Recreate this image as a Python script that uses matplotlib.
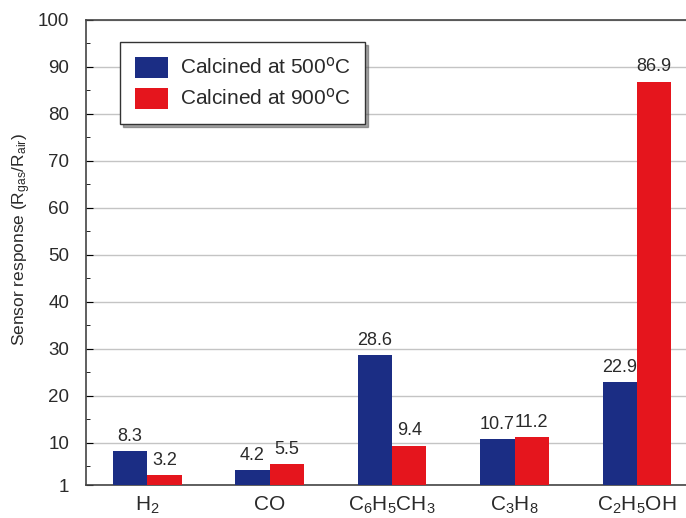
import numpy as np
import matplotlib.pyplot as plt
from matplotlib.ticker import FixedLocator

plt.rcParams['font.family'] = ['Liberation Sans', 'DejaVu Sans']
plt.rcParams['mathtext.default'] = 'regular'

gases = ['H$_2$', 'CO', 'C$_6$H$_5$CH$_3$', 'C$_3$H$_8$', 'C$_2$H$_5$OH']
resp_500 = [8.3, 4.2, 28.6, 10.7, 22.9]
resp_900 = [3.2, 5.5, 9.4, 11.2, 86.9]
labels = ['Calcined at 500$^{\\mathrm{o}}$C', 'Calcined at 900$^{\\mathrm{o}}$C']
colors = ['#1b2d84', '#e5151d']
y_base = 1
text_col = '#2a2a2a'

fig = plt.figure(figsize=(6.86, 5.18), dpi=100)
ax = fig.add_axes([0.1254, 0.0637, 0.8746, 0.8977])

x = np.arange(len(gases))
w = 0.28
for k, (vals, lab, col) in enumerate(zip([resp_500, resp_900], labels, colors)):
    xs = x + (k - 0.5) * w
    heights = np.array(vals) - y_base
    ax.bar(xs, heights, w, bottom=y_base, color=col, label=lab, zorder=3)
    for xi, v in zip(xs, vals):
        ax.text(xi, v + 1.3, f"{v:.1f}", ha='center', va='bottom',
                fontsize=13, color=text_col, zorder=4)

ax.set_xlim(-0.5, 4.4)
ax.set_ylim(1, 100)
ax.yaxis.set_major_locator(FixedLocator([1, 10, 20, 30, 40, 50, 60, 70, 80, 90, 100]))
ax.yaxis.set_minor_locator(FixedLocator([5, 15, 25, 35, 45, 55, 65, 75, 85, 95]))
ax.set_xticks(x)
ax.set_xticklabels(gases, fontsize=15, color=text_col)
ax.tick_params(axis='y', which='both', direction='in', labelsize=13.5,
               labelcolor=text_col, pad=12)
ax.tick_params(axis='y', which='major', length=5)
ax.tick_params(axis='y', which='minor', length=3)
ax.tick_params(axis='x', length=0, pad=7)
ax.yaxis.grid(True, which='major', color='#c4c4c4', linewidth=1.0, zorder=0)

ax.spines['right'].set_visible(False)
for s in ['left', 'bottom', 'top']:
    ax.spines[s].set_color('#444444')
    ax.spines[s].set_linewidth(1.2)

ax.set_ylabel('Sensor response (R$_{gas}$/R$_{air}$)', fontsize=12.5,
              color=text_col)
ax.yaxis.set_label_coords(-0.088, 0.527)

leg = ax.legend(loc='upper left', bbox_to_anchor=(0.057, 0.952), fontsize=15,
                frameon=True, fancybox=False, shadow=True, handlelength=1.6,
                handleheight=1.2, borderpad=0.7, labelspacing=0.45,
                handletextpad=0.55, borderaxespad=0)
leg.get_frame().set_edgecolor('#333333')
leg.get_frame().set_linewidth(1.0)
for t in leg.get_texts():
    t.set_color(text_col)

fig.savefig('out.png', dpi=100)
